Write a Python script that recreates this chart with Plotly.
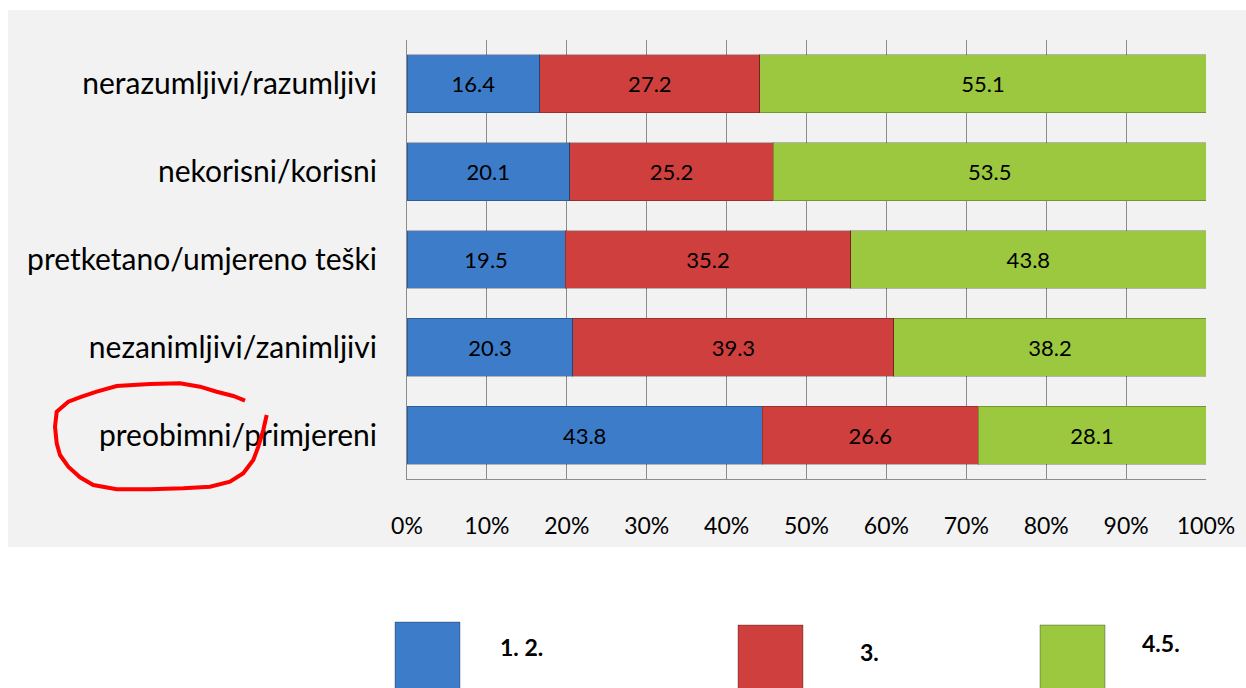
import plotly.graph_objects as go

categories = ["nerazumljivi/razumljivi", "nekorisni/korisni", "pretketano/umjereno teški",
              "nezanimljivi/zanimljivi", "preobimni/primjereni"]
series_names = ["1. 2.", "3.", "4.5."]
v12 = [16.4, 20.1, 19.5, 20.3, 43.8]
v3 = [27.2, 25.2, 35.2, 39.3, 26.6]
v45 = [55.1, 53.5, 43.8, 38.2, 28.1]
colors = ["#3d7cc9", "#cf3f3d", "#9bc83e"]
tick_vals = [0, 10, 20, 30, 40, 50, 60, 70, 80, 90, 100]
tick_text = [f"{v}%" for v in tick_vals]

W, H = 1246, 688
L, R, T, B = 407, 40, 40, 209
PW, PH = W - L - R, H - T - B


def px(x):
    return (x - L) / PW


def py(y):
    return (H - B - y) / PH


fig = go.Figure()
for name, vals, col in zip(series_names, [v12, v3, v45], colors):
    fig.add_trace(go.Bar(
        y=categories, x=vals, name=name, orientation="h",
        marker=dict(color=col, line=dict(color="rgba(0,0,0,0.25)", width=1)),
        text=[f"{v:.1f}" for v in vals], textposition="inside",
        insidetextanchor="middle", textfont=dict(color="black", size=22, family="Lato"),
        showlegend=False,
    ))

shapes = []
# grey chart background
shapes.append(dict(type="rect", xref="paper", yref="paper", x0=px(8), x1=px(1246),
                   y0=py(547), y1=py(10), fillcolor="#f2f2f2", line=dict(width=0), layer="below"))
# legend boxes
legend_boxes = [(395, 460, 622, 690), (738, 803, 625, 690), (1040, 1105, 625, 690)]
for (x0, x1, y0, y1), col in zip(legend_boxes, colors):
    shapes.append(dict(type="rect", xref="paper", yref="paper", x0=px(x0), x1=px(x1),
                       y0=py(y1), y1=py(y0), fillcolor=col,
                       line=dict(color="rgba(0,0,0,0.3)", width=1)))
# hand-drawn red circle
pts = [(245, 400.7), (233.3, 396), (216.7, 391.7), (200, 386.7), (180, 383.3), (150, 384),
       (116.7, 386), (96.7, 391.7), (81.7, 396.7), (68.3, 401.7), (56.7, 411.7), (55, 426.7),
       (56.7, 443.3), (60, 455), (68.3, 466.7), (80, 477.3), (93.3, 485), (116.7, 489.3),
       (150, 489.3), (183.3, 488.3), (210, 486.7), (230, 481.7), (243.3, 473.3), (253.3, 460),
       (258.3, 446.7), (263.3, 430), (266.7, 415)]
path = "M " + " L ".join(f"{px(x):.5f},{py(y):.5f}" for x, y in pts)
shapes.append(dict(type="path", xref="paper", yref="paper", path=path,
                   line=dict(color="#ff0000", width=4)))

annotations = []
legend_text_pos = [(521, 647), (869, 652), (1161, 643)]
for name, (x, y) in zip(series_names, legend_text_pos):
    annotations.append(dict(x=px(x), y=py(y), xref="paper", yref="paper", text=f"<b>{name}</b>",
                            showarrow=False, font=dict(size=23, family="Lato", color="black"),
                            xanchor="center", yanchor="middle"))

fig.update_layout(
    width=W, height=H,
    margin=dict(l=L, r=R, t=T, b=B, autoexpand=False),
    barmode="stack", barnorm="percent", bargap=0.34,
    paper_bgcolor="white", plot_bgcolor="rgba(0,0,0,0)",
    font=dict(family="Lato", color="black"),
    shapes=shapes, annotations=annotations, showlegend=False,
    xaxis=dict(range=[0, 100], tickvals=tick_vals, ticktext=tick_text,
               showgrid=True, gridcolor="#8c8c8c", gridwidth=1,
               showline=True, linecolor="#8c8c8c", linewidth=1, mirror=False,
               ticks="", tickfont=dict(size=23, family="Lato"), ticklabelstandoff=26,
               zeroline=False, fixedrange=True),
    yaxis=dict(categoryorder="array", categoryarray=categories, autorange="reversed",
               showline=True, linecolor="#8c8c8c", linewidth=1, showgrid=False,
               ticks="", tickfont=dict(size=30, family="Lato"), ticklabelstandoff=23,
               fixedrange=True),
)

fig.write_html("out.html", config={"displayModeBar": False})
with open("out.html", encoding="utf-8") as f:
    html = f.read()
html = html.replace("<body>", '<body style="margin:0;padding:0;overflow:hidden">', 1)
with open("out.html", "w", encoding="utf-8") as f:
    f.write(html)
